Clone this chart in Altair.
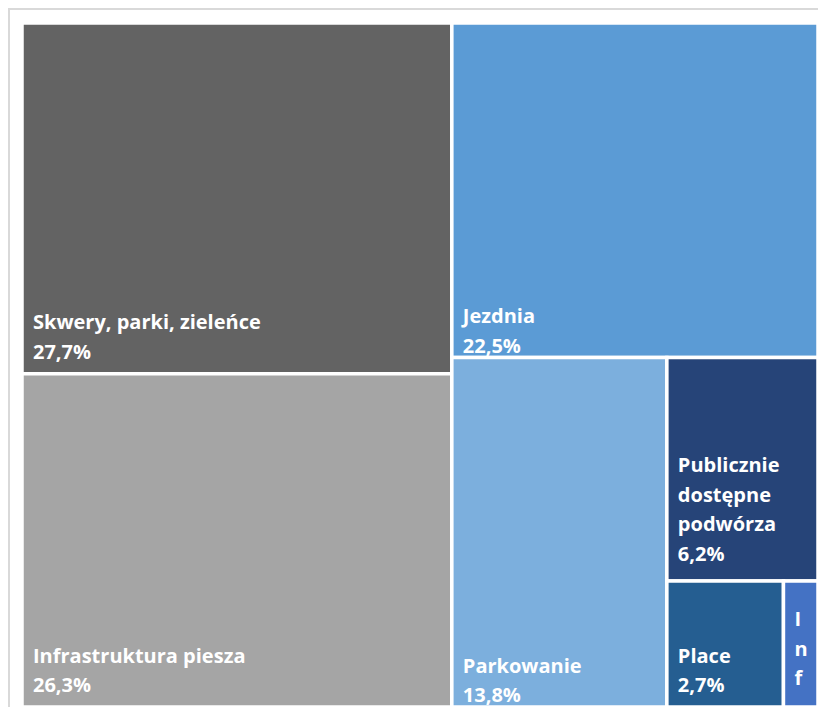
import altair as alt
import pandas as pd

# ---- data ----
categories = ["Skwery, parki, zieleńce", "Infrastruktura piesza", "Jezdnia",
              "Parkowanie", "Publicznie dostępne podwórza", "Place", "Inf"]
shares = [27.7, 26.3, 22.5, 13.8, 6.2, 2.7, 0.8]
display_names = ["Skwery, parki, zieleńce", "Infrastruktura piesza", "Jezdnia",
                 "Parkowanie", "Publicznie\ndostępne\npodwórza", "Place", "I\nn\nf"]
show_value = [True, True, True, True, True, True, False]

# ---- style ----
colors = ["#636363", "#a5a5a5", "#5b9bd5", "#7cafdd", "#264478", "#255e91", "#4472c4"]
label_bottom_pad = {"Skwery, parki, zieleńce": 15, "Infrastruktura piesza": 15,
                    "Jezdnia": 5, "Parkowanie": 5,
                    "Publicznie dostępne podwórza": 20,
                    "Place": 15, "Inf": 22}
W, H = 796, 684
LH = 29.5


# ---- squarified treemap layout ----
def worst(row, side):
    s = sum(row)
    return max(max(side * side * r / (s * s), (s * s) / (side * side * r)) for r in row)


def squarify(areas, x, y, dx, dy):
    rects = []
    areas = list(areas)
    while areas:
        side = min(dx, dy)
        row = [areas.pop(0)]
        while areas and worst(row + [areas[0]], side) <= worst(row, side):
            row.append(areas.pop(0))
        s = sum(row)
        if dx >= dy:
            cw = s / dy
            yy = y
            for a in row:
                h = a / cw
                rects.append((x, yy, x + cw, yy + h))
                yy += h
            x += cw
            dx -= cw
        else:
            rh = s / dx
            xx = x
            for a in row:
                w = a / rh
                rects.append((xx, y, xx + w, y + rh))
                xx += w
            y += rh
            dy -= rh
    return rects


total = sum(shares)
areas = [v / total * W * H for v in shares]
rects = squarify(areas, 0, 0, W, H)

rows = []
for cat, v, name, sv, (x0, y0, x1, y1) in zip(categories, shares, display_names, show_value, rects):
    label = name + ("\n" + f"{v:.1f}".replace(".", ",") + "%" if sv else "")
    n = label.count("\n") + 1
    rows.append(dict(cat=cat, share=v, x0=x0, y0=y0, x1=x1, y1=y1, label=label,
                     ly=y1 - label_bottom_pad[cat] - (n - 1) * LH))
df = pd.DataFrame(rows)

xs = alt.Scale(domain=[0, W], nice=False, zero=False)
ys = alt.Scale(domain=[0, H], nice=False, zero=False, reverse=True)

rect = alt.Chart(df).mark_rect(stroke="white", strokeWidth=3.5).encode(
    x=alt.X("x0:Q", scale=xs, axis=None),
    x2="x1:Q",
    y=alt.Y("y0:Q", scale=ys, axis=None),
    y2="y1:Q",
    color=alt.Color("cat:N", scale=alt.Scale(domain=categories, range=colors), legend=None),
    tooltip=["cat:N", "share:Q"],
)

text = alt.Chart(df).mark_text(
    align="left", baseline="alphabetic", lineBreak="\n", font="Open Sans",
    fontWeight="bold", fontSize=20, lineHeight=LH, color="white", dx=11,
).encode(
    x=alt.X("x0:Q", scale=xs, axis=None),
    y=alt.Y("ly:Q", scale=ys, axis=None),
    text="label:N",
)

frame = alt.Chart(df).mark_rect(fill=None, stroke="#d9d9d9", strokeWidth=2).encode(
    x=alt.value(-13), x2=alt.value(W + 40), y=alt.value(-14), y2=alt.value(H + 40)
)

chart = alt.layer(frame, rect, text).properties(
    width=W, height=H,
    padding={"left": 14, "top": 15, "right": 0, "bottom": 0},
    autosize=alt.AutoSizeParams(type="none"),
).configure_view(stroke=None).configure(background="white")

chart.save("out.html", embed_options={"renderer": "svg", "actions": False})
